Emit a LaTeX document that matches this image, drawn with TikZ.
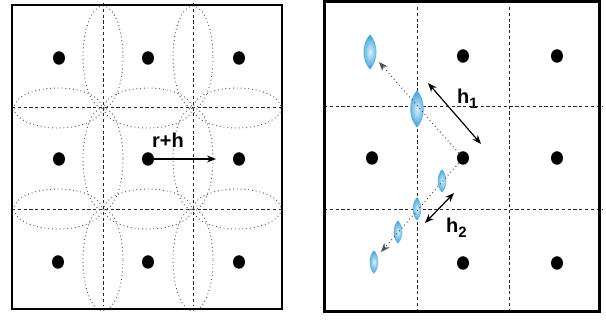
\documentclass[tikz,border=0pt]{standalone}
\usepackage{fontspec}
\setmainfont{Liberation Sans}
\usetikzlibrary{shapes.geometric,arrows.meta}
\definecolor{lensout}{RGB}{60,158,215}
\definecolor{lensin}{RGB}{215,240,252}
\definecolor{dotgray}{RGB}{80,80,80}
\tikzset{
  framebox/.style={draw=black,line width=2.6pt},
  gridline/.style={draw=black!85,line width=1pt,dash pattern=on 3.2pt off 2.6pt},
  rangeell/.style={draw=dotgray,line width=0.9pt,dash pattern=on 0.9pt off 2.9pt},
  bdot/.style={ellipse,fill=black,draw=none,inner sep=0pt,minimum width=12pt,minimum height=13.5pt},
  arrtip/.style={-{Stealth[length=9pt,width=7pt]}},
  darrtip/.style={{Stealth[length=9pt,width=7pt]}-{Stealth[length=9pt,width=7pt]}},
  dotpath/.style={draw=dotgray,line width=1.1pt,dash pattern=on 0.9pt off 3pt},
  lbl/.style={font=\fontsize{20}{20}\selectfont\bfseries,inner sep=0pt,anchor=base west},
  pics/lens/.style 2 args={code={
    \shade[inner color=lensin,outer color=lensout]
      (0,-#2) .. controls (1.333*#1,-#2*0.5) and (1.333*#1,#2*0.5) .. (0,#2)
      .. controls (-1.333*#1,#2*0.5) and (-1.333*#1,-#2*0.5) .. (0,-#2) -- cycle;}}
}
\newcommand{\subsc}[1]{\raisebox{-5pt}{\fontsize{15}{15}\selectfont #1}}
\begin{document}
\begin{tikzpicture}[x=1pt,y=-1pt]
\useasboundingbox (0,0) rectangle (606,320);

% ---------------- left panel ----------------
\draw[gridline] (103,3) -- (103,306);
\draw[gridline] (193,3) -- (193,306);
\draw[gridline] (12,108) -- (283,108);
\draw[gridline] (12,210) -- (283,210);

\foreach \x in {103,193}
  \foreach \y in {57,159,260}
    \draw[rangeell] (\x,\y) ellipse [x radius=20, y radius=51];
\foreach \y in {108,209}
  \foreach \x in {58,148,237}
    \draw[rangeell] (\x,\y) ellipse [x radius=44, y radius=20];

\node[bdot] (a11) at (59,58) {};
\node[bdot] (a12) at (148,58) {};
\node[bdot] (a13) at (239,58) {};
\node[bdot] (a21) at (59,159) {};
\node[bdot] (a22) at (148,159) {};
\node[bdot] (a23) at (239,159) {};
\node[bdot] (a31) at (58,262) {};
\node[bdot] (a32) at (148,262) {};
\node[bdot] (a33) at (239,262) {};

\coordinate (rh) at (216,159);
\draw[arrtip,line width=1.2pt] (a22.center) -- (rh);
\node[lbl] (lrh) at (152,148) {r+h};

\draw[framebox] (12,5) rectangle (282,309);

% ---------------- right panel ----------------
\draw[gridline] (417,7) -- (417,312);
\draw[gridline] (509,7) -- (509,312);
\draw[gridline] (324,107) -- (603,107);
\draw[gridline] (324,210) -- (603,210);

\node[bdot] (b12) at (463,56) {};
\node[bdot] (b13) at (557,56) {};
\node[bdot] (b21) at (372,158) {};
\node[bdot] (b22) at (463,158) {};
\node[bdot] (b23) at (557,158) {};
\node[bdot] (b32) at (463,263) {};
\node[bdot] (b33) at (557,263) {};

\pic at (370,52) {lens={6.5}{17.5}};
\pic at (417,109) {lens={6.8}{18.5}};
\pic at (442,181) {lens={4.3}{11.5}};
\pic at (417,209) {lens={4.3}{11.5}};
\pic at (398,232) {lens={4.3}{11.5}};
\pic at (374,262) {lens={4.3}{11.5}};

\coordinate (t1) at (379,62);
\coordinate (t2) at (381,252);
\draw[dotpath,arrtip] (b22) -- (t1);
\draw[dotpath,arrtip] (b22) -- (t2);

\coordinate (h1a) at (428,83);
\coordinate (h1b) at (481,144);
\coordinate (h2a) at (454,193);
\coordinate (h2b) at (425,223);
\draw[darrtip,line width=1.2pt] (h1a) -- (h1b);
\draw[darrtip,line width=1.2pt] (h2a) -- (h2b);
\node[lbl] (lh1) at (457,104) {h\subsc{1}};
\node[lbl] (lh2) at (446,233) {h\subsc{2}};

\draw[framebox,line width=3pt] (324,2) rectangle (599,312);
\end{tikzpicture}
\end{document}
